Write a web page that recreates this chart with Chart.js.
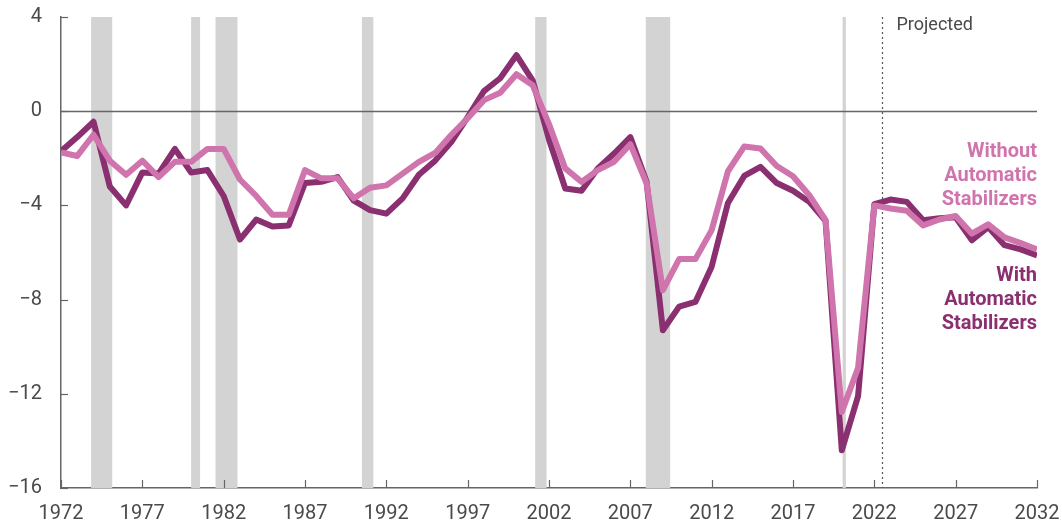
<!DOCTYPE html>
<html>
<head>
<meta charset="utf-8">
<script src="https://cdn.jsdelivr.net/npm/chart.js@4"></script>
<style>
  html, body { margin: 0; padding: 0; background: #fff; }
  #wrap { width: 1062px; height: 529px; }
</style>
</head>
<body>
<div id="wrap"><canvas id="myChart" width="1062" height="529"></canvas></div>
<script>
// years 1972..2032
const years = [];
for (let y = 1972; y <= 2032; y++) years.push(y);

const withStabilizers = [
  -1.7, -1.1, -0.45, -3.2, -4.0, -2.6, -2.65, -1.6, -2.6, -2.5,
  -3.6, -5.45, -4.6, -4.9, -4.85, -3.05, -3.0, -2.8, -3.8, -4.2,
  -4.35, -3.7, -2.7, -2.1, -1.3, -0.25, 0.85, 1.4, 2.38, 1.3,
  -1.2, -3.28, -3.38, -2.43, -1.8, -1.1, -3.0, -9.3, -8.3, -8.1,
  -6.6, -3.9, -2.75, -2.36, -3.05, -3.38, -3.85, -4.65, -14.4, -12.1,
  -3.95, -3.75, -3.85, -4.63, -4.55, -4.5, -5.48, -4.92, -5.69, -5.87,
  -6.12
];
const withoutStabilizers = [
  -1.75, -1.9, -1.0, -2.1, -2.7, -2.1, -2.8, -2.15, -2.15, -1.6,
  -1.6, -2.9, -3.6, -4.4, -4.4, -2.5, -2.85, -2.85, -3.7, -3.25,
  -3.15, -2.65, -2.15, -1.77, -1.0, -0.3, 0.47, 0.78, 1.57, 1.1,
  -0.55, -2.43, -3.0, -2.5, -2.15, -1.4, -3.07, -7.6, -6.28, -6.28,
  -5.05, -2.55, -1.5, -1.58, -2.33, -2.76, -3.57, -4.62, -12.77, -10.9,
  -4.0, -4.13, -4.23, -4.85, -4.6, -4.45, -5.2, -4.8, -5.36, -5.6,
  -5.87
];
const yTicks = [-16, -12, -8, -4, 0, 4];
const xTicks = [1972, 1977, 1982, 1987, 1992, 1997, 2002, 2007, 2012, 2017, 2022, 2027, 2032];
// recessions, as fractional years
const recessions = [[1973.85, 1975.15], [1980.0, 1980.55], [1981.5, 1982.85], [1990.5, 1991.2],
                    [2001.15, 2001.85], [2007.95, 2009.45], [2020.05, 2020.25]];
const projectedFrom = 2022.5;

const darkColor = '#8a2f6f';
const lightColor = '#cf74ac';
const axisColor = '#666666';
const textColor = '#4a4a4a';

const toPoints = arr => arr.map((v, i) => ({ x: years[i], y: v }));
const minus = v => (v < 0 ? '\u2212' + Math.abs(v) : String(v));

const decorPlugin = {
  id: 'decor',
  beforeDatasetsDraw(chart) {
    const { ctx, chartArea: a, scales: { x, y } } = chart;
    ctx.save();
    // recession bars
    ctx.fillStyle = '#d3d3d3';
    recessions.forEach(([s, e]) => {
      const x0 = x.getPixelForValue(s), x1 = x.getPixelForValue(e);
      ctx.fillRect(x0, a.top, Math.max(x1 - x0, 2.5), a.bottom - a.top);
    });
    // zero line
    const y0 = Math.round(y.getPixelForValue(0)) + 0.5;
    ctx.strokeStyle = axisColor;
    ctx.lineWidth = 1.5;
    ctx.beginPath();
    ctx.moveTo(a.left, y0);
    ctx.lineTo(a.right, y0);
    ctx.stroke();
    // inward ticks
    ctx.lineWidth = 1.2;
    yTicks.forEach(t => {
      const py = Math.round(y.getPixelForValue(t)) + 0.5;
      ctx.beginPath();
      ctx.moveTo(a.left, py);
      ctx.lineTo(a.left + 7, py);
      ctx.stroke();
    });
    xTicks.forEach(t => {
      const px = Math.round(x.getPixelForValue(t)) + 0.5;
      ctx.beginPath();
      ctx.moveTo(px, a.bottom);
      ctx.lineTo(px, a.bottom - 8);
      ctx.stroke();
    });
    // projected divider
    const px = Math.round(x.getPixelForValue(projectedFrom)) + 0.5;
    ctx.setLineDash([2, 3]);
    ctx.lineWidth = 1.2;
    ctx.strokeStyle = '#555';
    ctx.beginPath();
    ctx.moveTo(px, a.top);
    ctx.lineTo(px, a.bottom);
    ctx.stroke();
    ctx.setLineDash([]);
    ctx.fillStyle = textColor;
    ctx.font = '18px Roboto, "DejaVu Sans", sans-serif';
    ctx.textAlign = 'left';
    ctx.textBaseline = 'middle';
    ctx.fillText('Projected', px + 14, 25);
    ctx.restore();
  },
  afterDatasetsDraw(chart) {
    const { ctx, chartArea: a } = chart;
    ctx.save();
    ctx.font = 'bold 20px Roboto, "DejaVu Sans", sans-serif';
    ctx.textAlign = 'right';
    ctx.textBaseline = 'middle';
    ctx.fillStyle = lightColor;
    ['Without', 'Automatic', 'Stabilizers'].forEach((t, i) => ctx.fillText(t, a.right, 152 + i * 24));
    ctx.fillStyle = darkColor;
    ['With', 'Automatic', 'Stabilizers'].forEach((t, i) => ctx.fillText(t, a.right, 276 + i * 24));
    ctx.restore();
  }
};

const ctx = document.getElementById('myChart');

new Chart(ctx, {
  type: 'line',
  data: {
    datasets: [{
      label: 'Without Automatic Stabilizers',
      data: toPoints(withoutStabilizers),
      borderColor: lightColor,
      borderWidth: 6,
      pointRadius: 0,
      tension: 0,
      borderJoinStyle: 'round'
    }, {
      label: 'With Automatic Stabilizers',
      data: toPoints(withStabilizers),
      borderColor: darkColor,
      borderWidth: 6,
      pointRadius: 0,
      tension: 0,
      borderJoinStyle: 'round'
    }]
  },
  options: {
    responsive: false,
    animation: false,
    layout: { padding: { top: 17, right: 25, left: 0, bottom: 0 } },
    plugins: { legend: { display: false }, tooltip: { enabled: false } },
    scales: {
      x: {
        type: 'linear',
        min: 1972,
        max: 2032,
        afterFit: s => { s.height = 41; s.paddingLeft = 0; s.paddingRight = 0; },
        afterBuildTicks: s => { s.ticks = xTicks.map(v => ({ value: v })); },
        ticks: {
          callback: v => String(v),
          color: textColor,
          font: { family: 'Roboto, "DejaVu Sans", sans-serif', size: 20 },
          padding: 14,
          maxRotation: 0,
          autoSkip: false
        },
        grid: { display: false, drawTicks: false },
        border: { display: true, color: axisColor, width: 1.5 }
      },
      y: {
        min: -16,
        max: 4,
        afterFit: s => { s.width = 61; s.paddingTop = 0; s.paddingBottom = 0; },
        afterBuildTicks: s => { s.ticks = yTicks.map(v => ({ value: v })); },
        ticks: {
          callback: v => minus(v),
          color: textColor,
          font: { family: 'Roboto, "DejaVu Sans", sans-serif', size: 20 },
          padding: 19
        },
        grid: { display: false, drawTicks: false },
        border: { display: true, color: axisColor, width: 1.5 }
      }
    }
  },
  plugins: [decorPlugin]
});
</script>
</body>
</html>
